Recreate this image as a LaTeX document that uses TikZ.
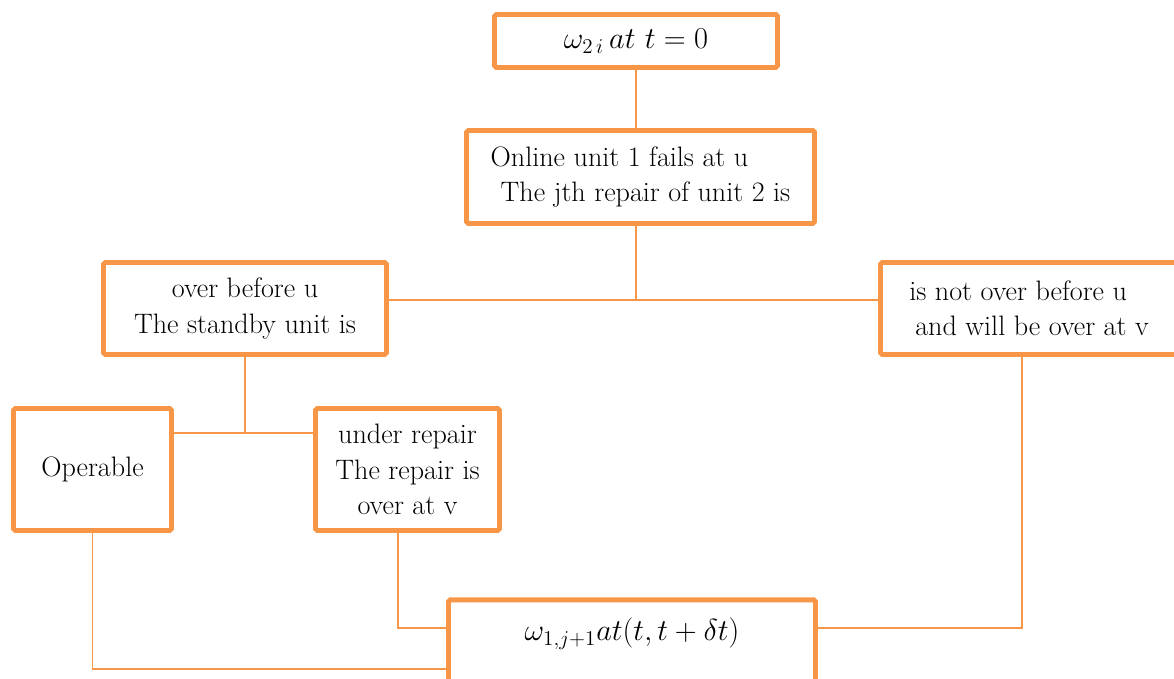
\documentclass[tikz,border=0pt]{standalone}
\usetikzlibrary{calc, positioning}

\definecolor{arancio}{RGB}{247,150,70}

\begin{document}
\begin{tikzpicture}[
    font=\fontsize{16}{20}\selectfont,
    box/.style={draw=arancio, line width=2.8pt, rounded corners=1pt, fill=white, inner sep=2pt},
    link/.style={draw=arancio, line width=1.1pt},
    formula/.style={font=\fontsize{17.5}{21}\selectfont}
]
    % ==========================================
    % AREA DEL DISEGNO
    % ==========================================
    \clip (0,0) rectangle (23.48,13.58);

    % ==========================================
    % BLOCCHI
    % ==========================================
    \node [box, formula, minimum width=5.66cm, minimum height=1.06cm] (init) at (12.72,12.76)
        {$\omega_{2\,i}\, at\ t = 0$};

    \node [box, minimum width=6.96cm, minimum height=1.86cm, align=left] (fails) at (12.81,10.04)
        {Online unit 1 fails at u\\\hspace{0.2cm}The jth repair of unit 2 is};

    \node [box, minimum width=5.66cm, minimum height=1.84cm, align=center] (standby) at (4.9,7.41)
        {over before u\\The standby unit is};

    \node [box, minimum width=5.94cm, minimum height=1.84cm, align=left] (notover) at (20.58,7.41)
        {is not over before u\\\hspace{0.12cm}and will be over at v};

    \node [box, minimum width=3.16cm, minimum height=2.44cm] (operable) at (1.85,4.19)
        {Operable};

    \node [box, minimum width=3.68cm, minimum height=2.44cm, align=center] (repair) at (8.15,4.19)
        {under repair\\The repair is\\over at v};

    % blocco finale (tagliato dal bordo inferiore)
    \node [box, formula, minimum width=7.34cm, anchor=north, inner ysep=0.1cm,
           text height=0.72cm, text depth=1.5cm] (target) at (12.64,1.63)
        {$\omega_{1,j+1} at (t, t + \delta t)$};

    % ==========================================
    % COLLEGAMENTI
    % ==========================================
    \coordinate (branch) at ($(init.south |- fails.south)+(0,-1.48)$);
    \coordinate (split) at ($(standby.south)+(0,-1.52)$);

    \draw [link] (init.south) -- (init.south |- fails.north);
    \draw [link] (init.south |- fails.south) -- (branch);
    \draw [link] (standby.east |- branch) -- (notover.west |- branch);

    \draw [link] (standby.south) -- (split);
    \draw [link] (operable.east |- split) -- (repair.west |- split);

    \draw [link] (operable.south) |- ([yshift=-1.43cm]target.north west);
    \draw [link] ([xshift=-0.19cm]repair.south) |- ([yshift=-0.61cm]target.north west);
    \draw [link] ([xshift=-0.14cm]notover.south) |- ([yshift=-0.61cm]target.north east);

\end{tikzpicture}
\end{document}
